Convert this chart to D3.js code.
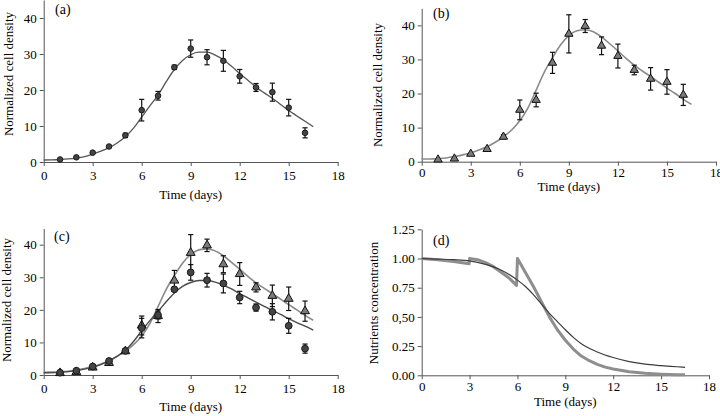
<!DOCTYPE html>
<html>
<head>
<meta charset="utf-8">
<script src="https://cdn.jsdelivr.net/npm/d3@7"></script>
<style>
  html, body { margin: 0; padding: 0; background: #fff; }
  svg { display: block; }
  svg text { font-family: "Liberation Serif", "Times New Roman", serif !important; fill: #000; }
</style>
</head>
<body>
<svg id="chart" width="720" height="416"></svg>
<script>
// ---------- data ----------
const days = [1, 2, 3, 4, 5, 6, 7, 8, 9, 10, 11, 12, 13, 14, 15, 16];
const circleMean = [0.7, 1.3, 2.6, 4.3, 7.4, 14.4, 18.4, 26.3, 31.5, 29.1, 28.1, 23.8, 20.7, 19.4, 15.1, 8.1];
const circleErr  = [0, 0, 0, 0, 0.6, 3.0, 1.2, 0.6, 2.4, 2.1, 2.9, 1.9, 1.1, 2.5, 2.3, 1.4];
const triMean = [0.6, 0.9, 2.3, 3.7, 7.3, 15.2, 18.1, 29.0, 37.5, 39.8, 34.0, 31.0, 26.9, 24.3, 23.4, 19.6];
const triErr  = [0, 0, 0, 0, 0.6, 2.9, 2.0, 3.1, 5.6, 1.9, 2.6, 3.5, 1.4, 3.3, 3.6, 3.1];

const modelDays = [0, 0.5, 1, 1.5, 2, 2.5, 3, 3.5, 4, 4.5, 5, 5.5, 6, 6.5, 7, 7.5, 8, 8.5,
                   9, 9.5, 10, 10.5, 11, 11.5, 12, 12.5, 13, 13.5, 14, 14.5, 15, 15.5, 16, 16.5];
// fitted curve, panel (a)
const modelA = [0.55, 0.6, 0.7, 0.85, 1.1, 1.5, 2.2, 3.0, 4.0, 5.3, 7.0, 9.4, 12.5, 15.6, 18.6, 22.3, 25.7, 28.2,
                29.8, 30.5, 30.5, 29.7, 28.4, 26.6, 24.6, 22.7, 20.8, 19.2, 17.7, 16.0, 14.3, 12.8, 11.3, 9.8];
// fitted curve, triangles (panels b, c)
const modelB = [0.8, 0.8, 0.9, 1.1, 1.5, 2.0, 2.6, 3.4, 4.4, 5.7, 7.3, 9.3, 12.0, 15.8, 21.0, 26.3, 30.5, 34.3,
                37.0, 38.4, 38.7, 38.1, 36.6, 34.6, 32.5, 30.3, 28.3, 26.6, 25.0, 23.3, 21.6, 20.0, 18.3, 16.8];
// model curve, circles (panel c)
const modelC = [0.7, 0.75, 0.85, 1.05, 1.35, 1.8, 2.4, 3.2, 4.3, 5.8, 7.6, 10.3, 13.6, 16.7, 19.5, 22.5, 25.2, 27.2,
                28.4, 29.0, 29.0, 28.5, 27.6, 26.4, 25.0, 23.7, 22.4, 21.1, 19.8, 18.6, 17.3, 16.1, 15.0, 13.8];

// nutrients (panel d)
const nutDarkDays = [0, 1, 2, 3, 4, 5, 6, 6.5, 7, 7.5, 8, 8.5, 9, 9.5, 10, 11, 12, 13, 14, 15, 16, 16.5];
const nutDark     = [1.0, 0.995, 0.99, 0.98, 0.95, 0.9, 0.815, 0.76, 0.69, 0.61, 0.53, 0.46, 0.39, 0.325, 0.27,
                     0.2, 0.152, 0.117, 0.095, 0.083, 0.073, 0.068];
const nutGrayDays = [0, 1, 2, 2.97, 3.0, 3.5, 4, 4.5, 5, 5.5, 5.94, 6.0, 6.5, 7, 7.5, 8, 8.5, 9, 9.5, 10,
                     10.5, 11, 11.5, 12, 13, 14, 15, 16, 16.5];
const nutGray     = [1.0, 0.99, 0.975, 0.955, 1.0, 0.99, 0.965, 0.93, 0.88, 0.83, 0.77, 1.0, 0.88, 0.76, 0.63,
                     0.5, 0.39, 0.3, 0.225, 0.165, 0.125, 0.094, 0.07, 0.054, 0.03, 0.017, 0.01, 0.005, 0.004];

const xTicks = [0, 3, 6, 9, 12, 15, 18];
const densityTicks = [0, 10, 20, 30, 40];
const nutrientTicks = [0, 0.25, 0.5, 0.75, 1.0, 1.25];
const nutrientTickLabels = ["0.00", "0.25", "0,50", "0.75", "1.00", "1.25"];

// ---------- drawing ----------
const svg = d3.select("#chart");
const AXIS = "#555";
const FONT = '"Liberation Serif", "Times New Roman", serif';

function makePanel(c) {
  const g = svg.append("g");
  const x = d3.scaleLinear([0, 18], [c.x0, c.x1]);
  const y = d3.scaleLinear(c.yDomain, [c.y0, c.y1]);

  const xa = g.append("g").attr("transform", `translate(0,${c.y0})`)
    .call(d3.axisBottom(x).tickValues(xTicks).tickSize(4).tickPadding(c.xPad).tickSizeOuter(0));
  const ya = g.append("g").attr("transform", `translate(${c.x0},0)`)
    .call(d3.axisLeft(y).tickValues(c.yTicks).tickFormat(c.yFormat).tickSize(4).tickPadding(3).tickSizeOuter(0));
  [xa, ya].forEach(a => {
    a.attr("font-family", FONT).attr("font-size", 13);
    a.selectAll("path, line").attr("stroke", AXIS).attr("stroke-width", 1);
    a.selectAll("text").style("font-size", "13px").style("font-family", FONT).attr("fill", "#000");
  });

  g.append("text").attr("x", (c.x0 + c.x1) / 2).attr("y", c.xTitleY)
    .attr("text-anchor", "middle").style("font-family", FONT).style("font-size", "13px").text("Time (days)");
  g.append("text").attr("transform", `translate(${c.yTitleX},${c.yTitleCY}) rotate(-90)`)
    .attr("text-anchor", "middle").style("font-family", FONT).style("font-size", "13px").text(c.yTitle);
  g.append("text").attr("x", c.tagX).attr("y", c.tagY)
    .style("font-family", FONT).style("font-size", "14px").text(c.tag);

  return { g, x, y };
}

function drawLine(p, xs, ys, color, width, curve) {
  const line = d3.line().x((d, i) => p.x(xs[i])).y(d => p.y(d)).curve(curve || d3.curveMonotoneX);
  p.g.append("path").datum(ys).attr("d", line).attr("fill", "none")
    .attr("stroke", color).attr("stroke-width", width).attr("stroke-linejoin", "round");
}

function drawErrors(p, means, errs) {
  const eg = p.g.append("g").attr("stroke", "#111").attr("stroke-width", 1.2);
  days.forEach((d, i) => {
    if (!errs[i]) return;
    const cx = p.x(d), top = p.y(means[i] + errs[i]), bot = p.y(means[i] - errs[i]);
    eg.append("line").attr("x1", cx).attr("x2", cx).attr("y1", top).attr("y2", bot);
    eg.append("line").attr("x1", cx - 2.6).attr("x2", cx + 2.6).attr("y1", top).attr("y2", top);
    eg.append("line").attr("x1", cx - 2.6).attr("x2", cx + 2.6).attr("y1", bot).attr("y2", bot);
  });
}

function drawCircles(p, r) {
  p.g.append("g").selectAll("circle").data(circleMean).join("circle")
    .attr("cx", (d, i) => p.x(days[i])).attr("cy", d => p.y(d)).attr("r", r)
    .attr("fill", "#444").attr("stroke", "#1a1a1a").attr("stroke-width", 1);
}

function drawTriangles(p, size) {
  const sym = d3.symbol(d3.symbolTriangle, size);
  p.g.append("g").selectAll("path").data(triMean).join("path")
    .attr("d", sym).attr("transform", (d, i) => `translate(${p.x(days[i])},${p.y(d)})`)
    .attr("fill", "#7a7a7a").attr("stroke", "#111").attr("stroke-width", 1);
}

const densityFmt = d3.format("d");

// (a)
const pa = makePanel({ x0: 43.7, x1: 337.7, y0: 162, y1: 0, yDomain: [0, 45], yTicks: densityTicks,
  yFormat: densityFmt, xPad: 5, xTitleY: 199, yTitleX: 12.5, yTitleCY: 74, yTitle: "Normalized cell density",
  tag: "(a)", tagX: 55, tagY: 14 });
drawLine(pa, modelDays, modelA, "#555", 1.3);
drawErrors(pa, circleMean, circleErr);
drawCircles(pa, 2.8);

// (b)
const pb = makePanel({ x0: 421.7, x1: 716, y0: 161.7, y1: 8.3, yDomain: [0, 45], yTicks: densityTicks,
  yFormat: densityFmt, xPad: 2, xTitleY: 190.5, yTitleX: 381.5, yTitleCY: 85, yTitle: "Normalized cell density",
  tag: "(b)", tagX: 433, tagY: 18 });
drawLine(pb, modelDays, modelB, "#8a8a8a", 1.6);
drawErrors(pb, triMean, triErr);
drawTriangles(pb, 30);

// (c)
const pc = makePanel({ x0: 43.7, x1: 337.7, y0: 375, y1: 228.4, yDomain: [0, 45], yTicks: densityTicks,
  yFormat: densityFmt, xPad: 5, xTitleY: 411, yTitleX: 11, yTitleCY: 300, yTitle: "Normalized cell density",
  tag: "(c)", tagX: 54, tagY: 241 });
drawLine(pc, modelDays, modelB, "#8a8a8a", 1.6);
drawLine(pc, modelDays, modelC, "#4a4a4a", 1.4);
drawErrors(pc, triMean, triErr);
drawTriangles(pc, 34);
drawErrors(pc, circleMean, circleErr);
drawCircles(pc, 3.4);

// (d)
const pd = makePanel({ x0: 421.7, x1: 709, y0: 375.3, y1: 229.3, yDomain: [0, 1.25], yTicks: nutrientTicks,
  yFormat: (d, i) => nutrientTickLabels[i], xPad: 2, xTitleY: 406, yTitleX: 378, yTitleCY: 303,
  yTitle: "Nutrients concentration", tag: "(d)", tagX: 433, tagY: 245 });
drawLine(pd, nutGrayDays, nutGray, "#8e8e8e", 3, d3.curveLinear);
drawLine(pd, nutDarkDays, nutDark, "#3c3c3c", 1.2);
</script>
</body>
</html>
